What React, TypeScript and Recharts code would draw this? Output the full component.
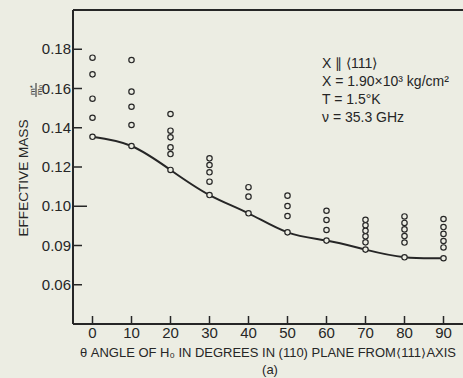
import { ComposedChart, Line, Scatter, XAxis, YAxis, ReferenceLine } from "recharts";

const angles = [0, 10, 20, 30, 40, 50, 60, 70, 80, 90];
// lowest circle at each angle, the one the solid curve runs through
const curveMass = [0.1354, 0.1307, 0.1185, 0.1057, 0.0964, 0.0867, 0.0825, 0.0779, 0.074, 0.0735];
// the other circles above the curve, per angle
const upperMass = [
  [0.1757, 0.1672, 0.1548, 0.1451],
  [0.1745, 0.1584, 0.1507, 0.1414],
  [0.147, 0.1385, 0.1351, 0.13, 0.1266],
  [0.1244, 0.121, 0.1173, 0.1125],
  [0.1097, 0.1049],
  [0.1054, 0.1001, 0.095],
  [0.0977, 0.093, 0.0879],
  [0.0931, 0.0903, 0.0875, 0.0847, 0.0816],
  [0.0948, 0.0915, 0.0882, 0.0848, 0.0815],
  [0.0935, 0.0894, 0.0859, 0.0823, 0.079],
];
const yTicks = [0.06, 0.08, 0.1, 0.12, 0.14, 0.16, 0.18];
const yTickLabels = ["0.06", "0.09", "0.10", "0.12", "0.14", "0.16", "0.18"];
const notes = ["X \u2225 \u27E8111\u27E9", "X = 1.90\u00D710\u00B3 kg/cm\u00B2", "T = 1.5\u00B0K", "\u03BD = 35.3 GHz"];

const ink = "#262626";
const paper = "#ecede3";
const font = "'Liberation Sans', Arial, sans-serif";

const curveData = angles.map((a, i) => ({ angle: a, mass: curveMass[i] }));
const pointData = angles.flatMap((a, i) =>
  [...upperMass[i], curveMass[i]].map((m) => ({ angle: a, mass: m }))
);

function YTick(props: any) {
  const { x, y, payload } = props;
  const i = yTicks.findIndex((t) => Math.abs(t - payload.value) < 1e-6);
  const len = payload.value === 0.1 ? 14 : 9;
  return (
    <g>
      <text x={x} y={y} dy={5} textAnchor="end" fontSize={15} fill={ink} fontFamily={font}>
        {yTickLabels[i]}
      </text>
      <line x1={x + 2} x2={x + 2 + len} y1={y} y2={y} stroke={ink} strokeWidth={1.5} />
    </g>
  );
}

function XTick(props: any) {
  const { x, y, payload } = props;
  return (
    <g>
      <text x={x} y={y + 14} textAnchor="middle" fontSize={15} fill={ink} fontFamily={font}>
        {payload.value}
      </text>
      <line x1={x} x2={x} y1={y} y2={y - 8} stroke={ink} strokeWidth={1.5} />
    </g>
  );
}

function Ring(props: any) {
  const { cx, cy } = props;
  return <circle cx={cx} cy={cy} r={2.7} fill={paper} stroke={ink} strokeWidth={1.2} />;
}

export default function App() {
  return (
    <div style={{ position: "fixed", left: 0, top: 0, width: 463, height: 378, background: paper }}>
      <ComposedChart width={463} height={378} margin={{ top: 10, right: 0, bottom: 0, left: 0 }}>
        <XAxis
          dataKey="angle"
          type="number"
          domain={[-5, 95]}
          ticks={angles}
          height={54}
          tickSize={0}
          tickMargin={0}
          tick={<XTick />}
          axisLine={{ stroke: ink, strokeWidth: 2 }}
          tickLine={false}
        />
        <YAxis
          dataKey="mass"
          type="number"
          domain={[0.04, 0.2]}
          ticks={yTicks}
          width={73}
          tickSize={0}
          tickMargin={2}
          tick={<YTick />}
          axisLine={{ stroke: ink, strokeWidth: 2 }}
          tickLine={false}
        />
        <ReferenceLine y={0.2} stroke={ink} strokeWidth={2} />
        <Line
          data={curveData}
          dataKey="mass"
          type="natural"
          stroke={ink}
          strokeWidth={2}
          dot={false}
          isAnimationActive={false}
        />
        <Scatter data={pointData} dataKey="mass" shape={<Ring />} isAnimationActive={false} />
        <g fontFamily={font} fill={ink} fontSize={14}>
          {notes.map((n, i) => (
            <text key={n} x={322} y={68 + i * 18}>
              {n}
            </text>
          ))}
          <text x={268} y={357} textAnchor="middle" fontSize={12} textLength={376} lengthAdjust="spacingAndGlyphs">
            {"\u03B8 ANGLE OF H\u2080 IN DEGREES IN (110) PLANE FROM\u27E8111\u27E9AXIS"}
          </text>
          <text x={270} y={374} textAnchor="middle" fontSize={13}>
            (a)
          </text>
          <text
            transform="translate(28 178) rotate(-90)"
            textAnchor="middle"
            fontSize={13}
            textLength={117}
            lengthAdjust="spacingAndGlyphs"
          >
            EFFECTIVE MASS
          </text>
          <text transform="translate(36 90) rotate(-90)" textAnchor="middle" fontSize={8}>
            <tspan x={0} dy={-1.5}>m*</tspan>
            <tspan x={0} dy={7.5}>m{"\u2080"}</tspan>
          </text>
          <line x1={36} x2={36} y1={83} y2={97} stroke={ink} strokeWidth={1} />
        </g>
      </ComposedChart>
    </div>
  );
}
